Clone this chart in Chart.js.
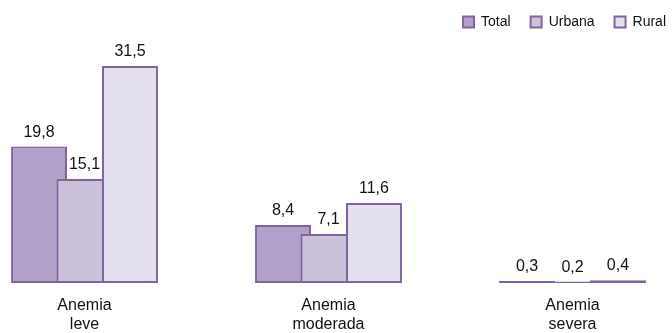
<!DOCTYPE html>
<html lang="pt">
<head>
    <meta charset="UTF-8">
    <title>Anemia por área</title>
    <script src="https://cdn.jsdelivr.net/npm/chart.js"></script>
    <style>
        html, body { margin: 0; padding: 0; background: #fff; }
        #wrap { width: 672px; height: 333px; }
    </style>
</head>
<body>
    <div id="wrap"><canvas id="chart"></canvas></div>

    <script>
        // data
        var categories = [['Anemia', 'leve'], ['Anemia', 'moderada'], ['Anemia', 'severa']];
        var seriesNames = ['Total', 'Urbana', 'Rural'];
        var totalValues = [19.8, 8.4, 0.3];
        var urbanaValues = [15.1, 7.1, 0.2];
        var ruralValues = [31.5, 11.6, 0.4];

        var fills = ['#B1A0C7', '#CCC1DA', '#E4DFEC'];
        var font = "'Liberation Sans', Arial, sans-serif";

        // x is a linear index axis so the groups can sit where the original put them
        var xMin = -0.3463, xMax = 2.4078;

        function toPoints(values) {
            return values.map(function (v, i) { return { x: i, y: v }; });
        }

        // draw Total first so Urbana and Rural overlap it, then the value labels
        var barOrderAndLabels = {
            id: 'barOrderAndLabels',
            beforeDatasetsDraw: function (chart) {
                var ctx = chart.ctx;
                var metas = chart.getSortedVisibleDatasetMetas().slice().sort(function (a, b) { return a.index - b.index; });
                metas.forEach(function (meta) { meta.controller.draw(); });

                ctx.save();
                ctx.font = '16px ' + font;
                ctx.fillStyle = '#111';
                ctx.textAlign = 'center';
                ctx.textBaseline = 'alphabetic';
                metas.forEach(function (meta) {
                    var ds = chart.data.datasets[meta.index];
                    meta.data.forEach(function (bar, i) {
                        var txt = ds.data[i].y.toFixed(1).replace('.', ',');
                        ctx.fillText(txt, bar.x, bar.y - 10);
                    });
                });
                ctx.restore();
                return false;
            }
        };

        var valueSets = [totalValues, urbanaValues, ruralValues];
        var datasets = seriesNames.map(function (name, k) {
            return {
                label: name,
                data: toPoints(valueSets[k]),
                backgroundColor: fills[k],
                borderColor: '#8064A2',
                borderWidth: 2,
                borderSkipped: false,
                categoryPercentage: 0.559,
                barPercentage: 1.23
            };
        });

        new Chart(document.getElementById('chart'), {
            type: 'bar',
            data: { datasets: datasets },
            plugins: [barOrderAndLabels],
            options: {
                responsive: true,
                maintainAspectRatio: false,
                animation: false,
                layout: { padding: { top: -5, right: -14, bottom: 0, left: 0 } },
                plugins: {
                    tooltip: { enabled: false },
                    legend: {
                        position: 'top',
                        align: 'end',
                        labels: {
                            boxWidth: 11,
                            boxHeight: 11,
                            padding: 20,
                            color: '#111',
                            font: { family: font, size: 14 }
                        }
                    }
                },
                scales: {
                    x: {
                        type: 'linear',
                        min: xMin,
                        max: xMax,
                        offset: false,
                        grid: { display: false, drawTicks: false },
                        border: { display: false },
                        afterFit: function (scale) { scale.height = 50; },
                        ticks: {
                            stepSize: 1,
                            includeBounds: false,
                            autoSkip: false,
                            maxRotation: 0,
                            padding: 13,
                            color: '#111',
                            font: { family: font, size: 16, lineHeight: 1.2 },
                            callback: function (v) { return categories[v] || ''; }
                        }
                    },
                    y: {
                        display: false,
                        min: 0,
                        max: 35.4
                    }
                }
            }
        });
    </script>
</body>
</html>
